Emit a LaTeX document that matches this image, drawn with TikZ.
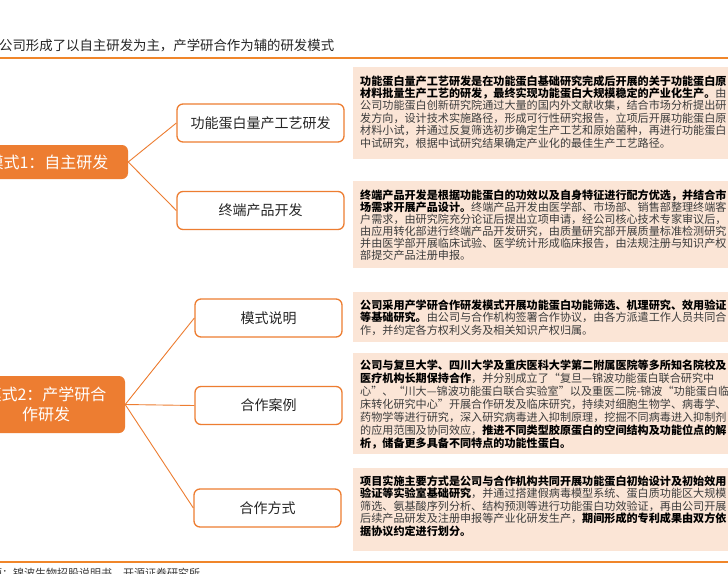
\documentclass[tikz,border=0pt]{standalone}
\usepackage{fontspec}
\setmainfont{Noto Sans CJK SC}
\definecolor{orgline}{HTML}{F0862A}
\definecolor{orgfill}{HTML}{ED7D31}
\definecolor{pinkbg}{HTML}{FBE5D6}
\definecolor{txtgray}{HTML}{3C3C3C}
\definecolor{darktxt}{HTML}{262626}
\tikzset{
  modebox/.style={fill=orgfill, rounded corners=6pt, text=white, align=center,
    font=\fontsize{16}{20}\selectfont, inner sep=0pt},
  subbox/.style={draw=orgfill, line width=1.3pt, fill=white, rounded corners=6pt,
    minimum width=167pt, minimum height=38pt, inner sep=0pt, text=darktxt,
    font=\fontsize{14}{16}\selectfont},
  conn/.style={draw=orgfill, line width=0.9pt},
  desc/.style={anchor=north west, align=left, inner sep=0pt, text=txtgray},
  pinkrect/.style={fill=pinkbg}
}
\begin{document}
\begin{tikzpicture}[x=1pt,y=-1pt]
\useasboundingbox (0,0) rectangle (728,573);
\clip (0,0) rectangle (728,573);
\fill[white] (0,0) rectangle (728,573);

% title and rules
\node[anchor=west, inner sep=0pt, text=darktxt, font=\fontsize{13.4}{15}\selectfont] (title) at (-1,46) {公司形成了以自主研发为主，产学研合作为辅的研发模式};
\draw[orgline, line width=1.2pt] (0,58) -- (728,58);
\draw[orgline, line width=1.2pt] (0,562) -- (728,562);
\node[anchor=base west, inner sep=0pt, text=txtgray, font=\fontsize{11}{13}\selectfont] (src) at (-42,577) {资料来源：锦波生物招股说明书、开源证券研究所};

% pink description boxes
\fill[pinkrect] (353,67) rectangle (728,159);
\fill[pinkrect] (353,181) rectangle (728,268);
\fill[pinkrect] (353,292) rectangle (728,342);
\fill[pinkrect] (353,353) rectangle (728,454);
\fill[pinkrect] (353,468) rectangle (728,551);

\node[desc, font=\fontsize{11.1}{12.4}\selectfont] (d1) at (360,75.2) {%
{\color{black}\bfseries 功能蛋白量产工艺研发是在功能蛋白基础研究完成后开展的关于功能蛋白原}\\
{\color{black}\bfseries 材料批量生产工艺的研发，最终实现功能蛋白大规模稳定的产业化生产。}由\\
公司功能蛋白创新研究院通过大量的国内外文献收集，结合市场分析提出研\\
发方向，设计技术实施路径，形成可行性研究报告，立项后开展功能蛋白原\\
材料小试，并通过反复筛选初步确定生产工艺和原始菌种，再进行功能蛋白\\
中试研究，根据中试研究结果确定产业化的最佳生产工艺路径。};

\node[desc, font=\fontsize{11.1}{12}\selectfont] (d2) at (360,189.2) {%
{\color{black}\bfseries 终端产品开发是根据功能蛋白的功效以及自身特征进行配方优选，并结合市}\\
{\color{black}\bfseries 场需求开展产品设计。}终端产品开发由医学部、市场部、销售部整理终端客\\
户需求，由研究院充分论证后提出立项申请，经公司核心技术专家审议后，\\
由应用转化部进行终端产品开发研究，由质量研究部开展质量标准检测研究，\\
并由医学部开展临床试验、医学统计形成临床报告，由法规注册与知识产权\\
部提交产品注册申报。};

\node[desc, font=\fontsize{11.1}{12.5}\selectfont] (d3) at (360,299.2) {%
{\color{black}\bfseries 公司采用产学研合作研发模式开展功能蛋白功能筛选、机理研究、效用验证}\\
{\color{black}\bfseries 等基础研究。}由公司与合作机构签署合作协议，由各方派遣工作人员共同合\\
作，并约定各方权利义务及相关知识产权归属。};

\node[desc, font=\fontsize{11.1}{13.1}\selectfont] (d4) at (360,359.2) {%
{\color{black}\bfseries 公司与复旦大学、四川大学及重庆医科大学第二附属医院等多所知名院校及}\\
{\color{black}\bfseries 医疗机构长期保持合作}，并分别成立了“复旦—锦波功能蛋白联合研究中\\
心”、“川大—锦波功能蛋白联合实验室”以及重医二院-锦波“功能蛋白临\\
床转化研究中心”开展合作研发及临床研究，持续对细胞生物学、病毒学、\\
药物学等进行研究，深入研究病毒进入抑制原理，挖掘不同病毒进入抑制剂\\
的应用范围及协同效应，{\color{black}\bfseries 推进不同类型胶原蛋白的空间结构及功能位点的解}\\
{\color{black}\bfseries 析，储备更多具备不同特点的功能性蛋白。}};

\node[desc, font=\fontsize{11.1}{12.5}\selectfont] (d5) at (360,475.2) {%
{\color{black}\bfseries 项目实施主要方式是公司与合作机构共同开展功能蛋白初始设计及初始效用}\\
{\color{black}\bfseries 验证等实验室基础研究}，并通过搭建假病毒模型系统、蛋白质功能区大规模\\
筛选、氨基酸序列分析、结构预测等进行功能蛋白功效验证，再由公司开展\\
后续产品研发及注册申报等产业化研发生产，{\color{black}\bfseries 期间形成的专利成果由双方依}\\
{\color{black}\bfseries 据协议约定进行划分。}};

% mode nodes
\node[modebox, minimum width=160pt, minimum height=34pt] (m1) at (48,162) {模式1：自主研发};
\node[modebox, minimum width=158pt, minimum height=57pt] (m2) at (46,404.5) {模式2：产学研合\\作研发};

% sub nodes
\node[subbox] (a) at (260.5,123) {功能蛋白量产工艺研发};
\node[subbox] (b) at (260.5,210.5) {终端产品开发};
\node[subbox, minimum width=147pt] (c) at (268.5,318) {模式说明};
\node[subbox, minimum width=147pt] (d) at (268.5,405.5) {合作案例};
\node[subbox, minimum width=147pt] (e) at (267.5,508) {合作方式};

% connectors
\draw[conn] (m1.east) -- (a.west);
\draw[conn] (m1.east) -- (b.west);
\draw[conn] (m2.east) -- (c.west);
\draw[conn] (m2.east) -- (d.west);
\draw[conn] (m2.east) -- (e.west);
\end{tikzpicture}
\end{document}
